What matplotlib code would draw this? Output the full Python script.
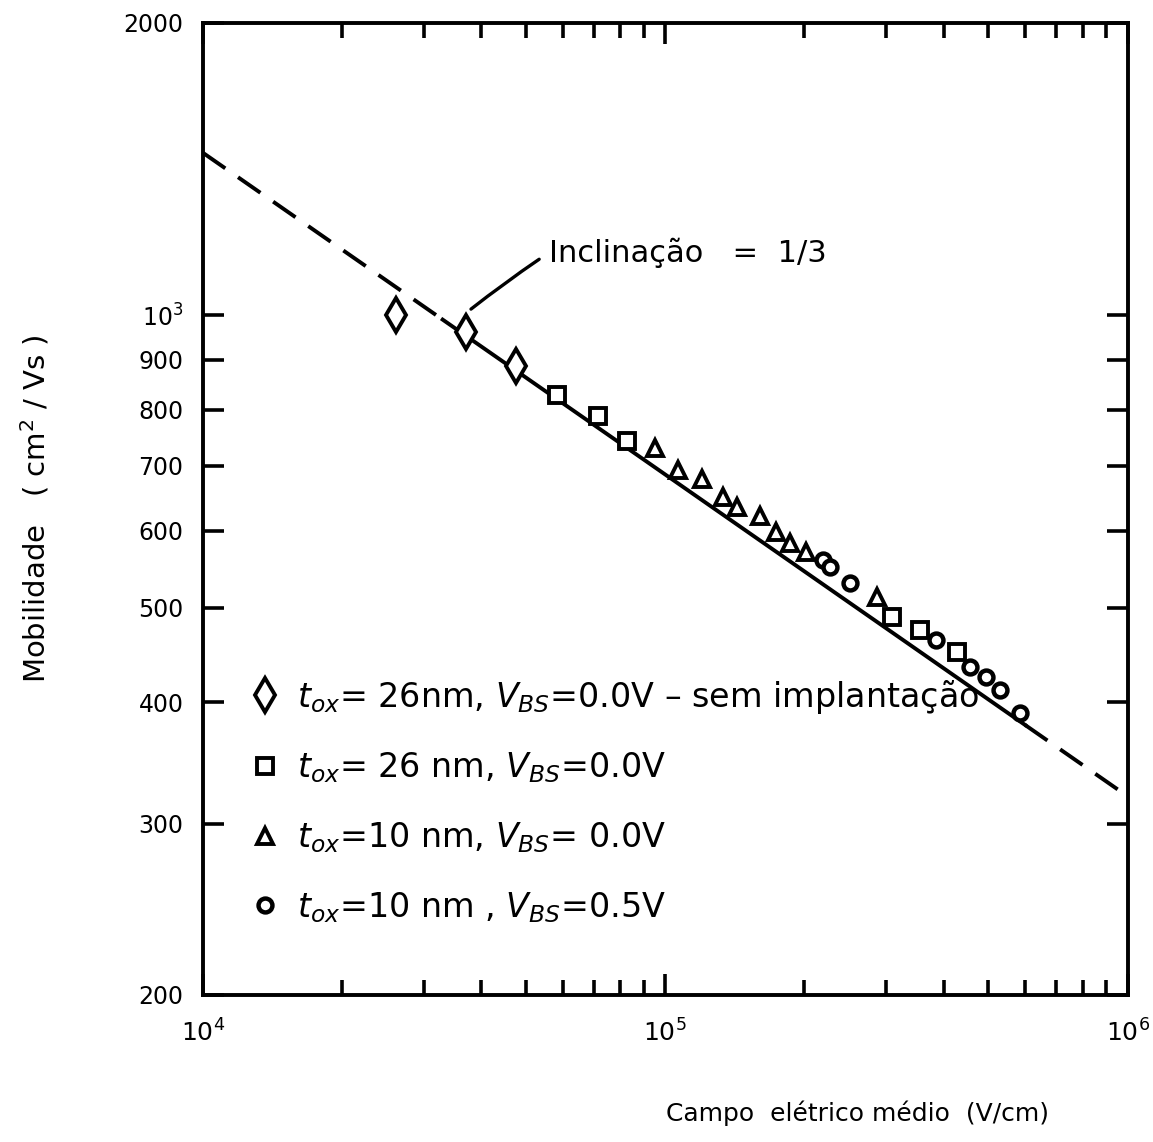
import numpy as np
import matplotlib.pyplot as plt
from matplotlib.lines import Line2D
from matplotlib.ticker import FixedLocator, NullLocator, LogLocator

# ---------------- DATA ----------------
# diamonds: t_ox = 26 nm, V_BS = 0.0 V, no implant
e_diam = [2.61e4, 3.70e4, 4.75e4]
mu_diam = [1000, 962, 887]

# squares: t_ox = 26 nm, V_BS = 0.0 V
e_sq = [5.83e4, 7.15e4, 8.26e4, 3.10e5, 3.55e5, 4.27e5]
mu_sq = [828, 787, 743, 489, 475, 450]

# triangles: t_ox = 10 nm, V_BS = 0.0 V
e_tri = [9.49e4, 1.064e5, 1.20e5, 1.33e5, 1.43e5, 1.60e5, 1.74e5, 1.86e5, 2.02e5, 2.87e5]
mu_tri = [731, 694, 678, 651, 635, 621, 599, 583, 571, 513]

# circles: t_ox = 10 nm, V_BS = 0.5 V
e_circ = [2.19e5, 2.27e5, 2.51e5, 3.86e5, 4.55e5, 4.95e5, 5.29e5, 5.84e5]
mu_circ = [560, 551, 531, 463, 435, 425, 412, 390]

# fitted line end points (slope ~ -1/3)
line_e = [1e4, 1e6]
line_mu = [1470, 320]

y_ticks = [200, 300, 400, 500, 600, 700, 800, 900, 1000, 2000]
y_labels = ["200", "300", "400", "500", "600", "700", "800", "900", r"$10^3$", "2000"]
x_ticks = [1e4, 1e5, 1e6]
x_labels = [r"$10^4$", r"$10^5$", r"$10^6$"]

# ---------------- FIGURE ----------------
plt.rcParams['font.family'] = 'DejaVu Sans'
plt.rcParams['mathtext.fontset'] = 'dejavusans'

fig = plt.figure(figsize=(11.53, 11.42), dpi=100)
ax = fig.add_axes([0.176, 0.129, 0.802, 0.851])
ax.set_xscale('log')
ax.set_yscale('log')
ax.set_xlim(1e4, 1e6)
ax.set_ylim(200, 2000)

# power law through the two end points
b = np.log10(line_mu[1] / line_mu[0]) / np.log10(line_e[1] / line_e[0])
def fit(e):
    return line_mu[0] * (e / line_e[0]) ** b

lw = 2.8
seg1 = np.logspace(4, np.log10(3.3e4), 50)
seg2 = np.logspace(np.log10(3.3e4), np.log10(6.0e5), 100)
seg3 = np.logspace(np.log10(6.0e5), np.log10(9.6e5), 50)
ax.plot(seg1, fit(seg1), color='black', lw=lw, ls=(0, (7, 4)))
ax.plot(seg2, fit(seg2), color='black', lw=lw)
ax.plot(seg3, fit(seg3), color='black', lw=lw, ls=(0, (7, 4)))

mk = dict(ls='none', mfc='white', mec='black', mew=2.8)
ax.plot(e_diam, mu_diam, marker='d', ms=17, **mk)
ax.plot(e_sq, mu_sq, marker='s', ms=11, **mk)
ax.plot(e_tri, mu_tri, marker='^', ms=12, **mk)
ax.plot(e_circ, mu_circ, marker='o', ms=10, ls='none', mfc='white', mec='black', mew=3.2)

# slope annotation
ax.annotate("Inclinação   =  1/3", xy=(3.8e4, 1015), xytext=(5.6e4, 1160),
            fontsize=22, va='center', ha='left',
            arrowprops=dict(arrowstyle='-', color='black', lw=2.4,
                            shrinkA=6, shrinkB=0, relpos=(0, 0.5),
                            connectionstyle='arc3,rad=0.02'))

# axes styling
for s in ax.spines.values():
    s.set_linewidth(2.8)
ax.yaxis.set_major_locator(FixedLocator(y_ticks))
ax.yaxis.set_minor_locator(NullLocator())
ax.set_yticklabels(y_labels)
ax.xaxis.set_major_locator(FixedLocator(x_ticks))
ax.xaxis.set_minor_locator(LogLocator(base=10, subs=np.arange(2, 10)))
ax.set_xticklabels(x_labels)
ax.tick_params(which='both', direction='in', top=True, right=True, width=2.6)
ax.tick_params(which='major', length=15)
ax.tick_params(which='minor', length=11)
ax.tick_params(axis='y', labelsize=17, pad=14)
ax.tick_params(axis='x', labelsize=18, pad=18)

ax.set_ylabel("Mobilidade   ( cm$^2$ / Vs )", fontsize=21, labelpad=52)
fig.text(857 / 1153, 1 - 1113 / 1142, "Campo  elétrico médio  (V/cm)",
         fontsize=18, ha='center', va='center')

# legend
handles = [
    Line2D([], [], marker='d', ms=17, **mk),
    Line2D([], [], marker='s', ms=11, **mk),
    Line2D([], [], marker='^', ms=12, **mk),
    Line2D([], [], marker='o', ms=10, ls='none', mfc='white', mec='black', mew=3.2),
]
labels = [
    r"$t_{ox}$= 26nm, $V_{BS}$=0.0V – sem implantação",
    r"$t_{ox}$= 26 nm, $V_{BS}$=0.0V",
    r"$t_{ox}$=10 nm, $V_{BS}$= 0.0V",
    r"$t_{ox}$=10 nm , $V_{BS}$=0.5V",
]
ax.legend(handles, labels, loc='upper left', bbox_to_anchor=(0.035, 0.34),
          frameon=False, fontsize=24, handlelength=1.0, handletextpad=0.45,
          labelspacing=1.05, borderaxespad=0)

fig.savefig("out.png", dpi=100)
